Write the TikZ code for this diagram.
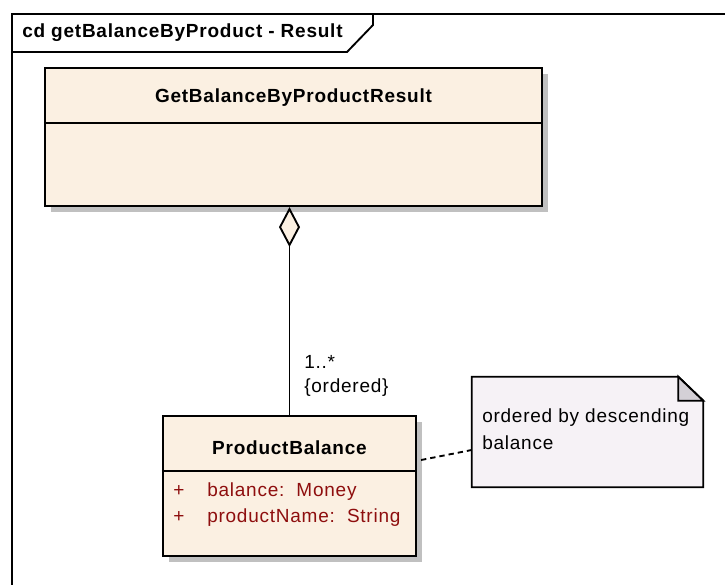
\documentclass[tikz,border=0pt]{standalone}
\usepackage{fontspec}
\setmainfont{Liberation Sans}[LetterSpace=4]
\usetikzlibrary{arrows.meta,shadows}
\definecolor{clsfill}{HTML}{FBF0E2}
\definecolor{notefill}{HTML}{F6F2F6}
\definecolor{foldfill}{HTML}{D4D0D6}
\definecolor{shadowgray}{HTML}{C0C0C0}
\definecolor{attrred}{HTML}{8E0E0E}
\begin{document}
\begin{tikzpicture}[x=0.75pt,y=-0.75pt,
  txt/.style={font=\fontsize{14.25}{18.75}\selectfont, inner sep=0},
  btxt/.style={font=\fontsize{14.25}{18.75}\selectfont\bfseries, inner sep=0},
  atxt/.style={txt, text=attrred, anchor=west},
  cls/.style={draw, line width=1.6pt, fill=clsfill, inner sep=0,
    drop shadow={shadow xshift=4.5pt, shadow yshift=-4.5pt, fill=shadowgray, opacity=1}},
  rule/.style={line width=1.6pt},
  link/.style={line width=1.4pt}]
\useasboundingbox (0,0) rectangle (725,585);
\clip (0,0) rectangle (725,585);

% diagram frame with its name tab
\draw[line width=1.4pt] (12,600) -- (12,14) -- (740,14);
\draw[line width=1.4pt] (12,52) -- (347,52) -- (373,25) -- (373,14);
\node[btxt, anchor=west] (frametitle) at (22,33) {cd getBalanceByProduct - Result};

% class GetBalanceByProductResult
\node[cls, minimum width=372.75pt, minimum height=103.5pt] (result) at (293.5,137) {};
\draw[rule] (result.west |- 0,123) -- (result.east |- 0,123);
\node[btxt] (resulttitle) at (293.5,98) {GetBalanceByProductResult};

% class ProductBalance
\node[cls, minimum width=189.75pt, minimum height=105pt] (pb) at (289.5,486) {};
\draw[rule] (pb.west |- 0,471) -- (pb.east |- 0,471);
\node[btxt] (pbtitle) at (289.5,448) {ProductBalance};
\node[atxt] (attrbalance) at (173,492) {\makebox[25.5pt][l]{+}balance:\ \ Money};
\node[atxt] (attrname) at (173,518) {\makebox[25.5pt][l]{+}productName:\ \ String};

% note with folded corner
\node[minimum width=173.25pt, minimum height=82.5pt, inner sep=0] (note) at (587.5,432) {};
\draw[fill=notefill, line width=1.4pt]
  (note.north west) -- ([xshift=-18.75pt]note.north east)
  -- ([yshift=-18pt]note.north east) -- (note.south east)
  -- (note.south west) -- cycle;
\draw[fill=foldfill, line width=1.4pt]
  ([xshift=-18.75pt]note.north east) -- ([xshift=-18.75pt,yshift=-18pt]note.north east)
  -- ([yshift=-18pt]note.north east) -- cycle;
\node[txt, anchor=west] (noteline1) at (482,418) {ordered by descending};
\node[txt, anchor=west] (noteline2) at (482,443) {balance};

% aggregation
\draw[link, {Diamond[length=30pt, width=15.75pt, fill=clsfill]}-]
  (pb.north |- result.south) -- (pb.north);
\node[txt, anchor=west] (mult) at (304,362) {1..*};
\node[txt, anchor=west] (ordered) at (304,388) {\{ordered\}};

% note attachment
\draw[link, dash pattern=on 4pt off 3pt]
  ([xshift=3pt,yshift=19.5pt]pb.east) -- ([yshift=-13.5pt]note.west);
\end{tikzpicture}
\end{document}
